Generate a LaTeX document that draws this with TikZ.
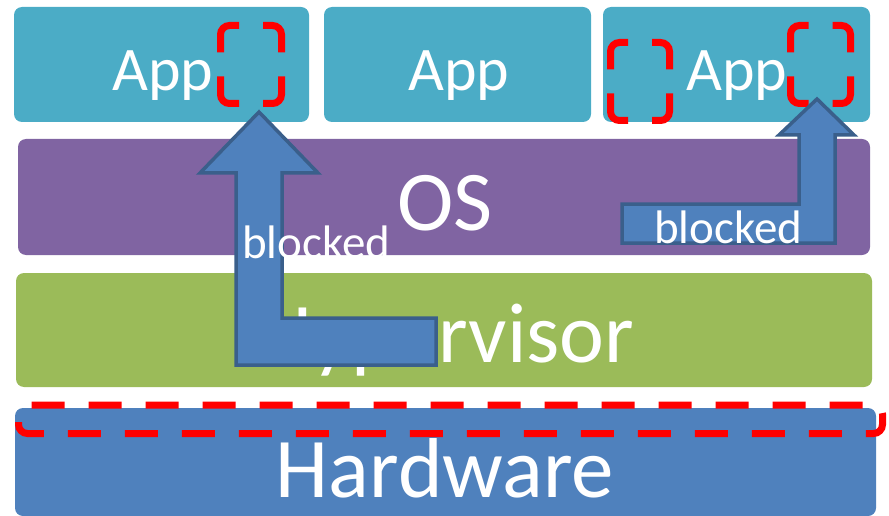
\documentclass[tikz,border=0pt]{standalone}
\usepackage{fontspec}
\setmainfont{Carlito}
\definecolor{appc}{HTML}{4BACC6}
\definecolor{osc}{HTML}{8064A2}
\definecolor{hvc}{HTML}{9BBB59}
\definecolor{hwc}{HTML}{4F81BD}
\definecolor{arrowline}{HTML}{3A5F8B}
\tikzset{
  layer/.style={rounded corners=8pt, draw=none},
  lbl/.style={text=white, anchor=base, inner sep=0pt},
  bigarrow/.style={fill=hwc, draw=arrowline, line width=3.5pt, line join=miter},
  trap/.style={draw=red, line width=7pt, rounded corners=9pt}
}
% dashed guard box: four rounded corner pieces with a gap in the middle of each side
\newcommand{\guardbox}[4]{%
  \pgfmathsetmacro{\gxm}{(#1+#3)/2}%
  \pgfmathsetmacro{\gym}{(#2+#4)/2}%
  \draw[trap] (#1,\gym-12) -- (#1,#2) -- (\gxm-12,#2);
  \draw[trap] (\gxm+12,#2) -- (#3,#2) -- (#3,\gym-12);
  \draw[trap] (#3,\gym+12) -- (#3,#4) -- (\gxm+12,#4);
  \draw[trap] (\gxm-12,#4) -- (#1,#4) -- (#1,\gym+12);
}
\begin{document}
\begin{tikzpicture}[x=1pt,y=-1pt]
\useasboundingbox (0,0) rectangle (889,516);
% layers of the stack
\fill[layer, appc] (14,7) rectangle (309,122);
\fill[layer, appc] (324,7) rectangle (591,122);
\fill[layer, appc] (603,7) rectangle (870,122);
\fill[layer, osc] (18,139) rectangle (870,255);
\fill[layer, hvc] (16,273) rectangle (872,387);
\fill[layer, hwc] (15,408) rectangle (876,516);
% layer captions
\node[lbl, font=\fontsize{62}{70}\selectfont] (app1) at (163,91) {App};
\node[lbl, font=\fontsize{62}{70}\selectfont] (app2) at (459,91) {App};
\node[lbl, font=\fontsize{62}{70}\selectfont] (app3) at (737,91) {App};
\node[lbl, font=\fontsize{85}{90}\selectfont] (os) at (445,230) {OS};
\node[lbl, font=\fontsize{85}{90}\selectfont] (hv) at (447,362) {Hypervisor};
\node[lbl, font=\fontsize{85}{90}\selectfont] (hw) at (445,497) {Hardware};
% protected regions
\guardbox{220.5}{25.5}{281.5}{103.5}
\guardbox{610.5}{42.5}{669.5}{120.5}
\guardbox{790.5}{25.5}{850.5}{103.5}
\draw[trap, dash pattern=on 33pt off 24pt, dash phase=-8pt] (18.5,405) rectangle (882.5,433.5);
% blocked access paths
\draw[bigarrow] (236,365) -- (436,365) -- (436,318) -- (282,318) -- (282,173)
  -- (318,173) -- (259,112) -- (200,173) -- (236,173) -- cycle;
\draw[bigarrow] (622,243) -- (835,243) -- (835,135) -- (854,135) -- (817,99)
  -- (779,135) -- (799,135) -- (799,204) -- (622,204) -- cycle;
\node[lbl, anchor=base west, font=\fontsize{47}{50}\selectfont] (b1) at (242,258) {blocked};
\node[lbl, anchor=base west, font=\fontsize{47}{50}\selectfont] (b2) at (654,243) {blocked};
\end{tikzpicture}
\end{document}
